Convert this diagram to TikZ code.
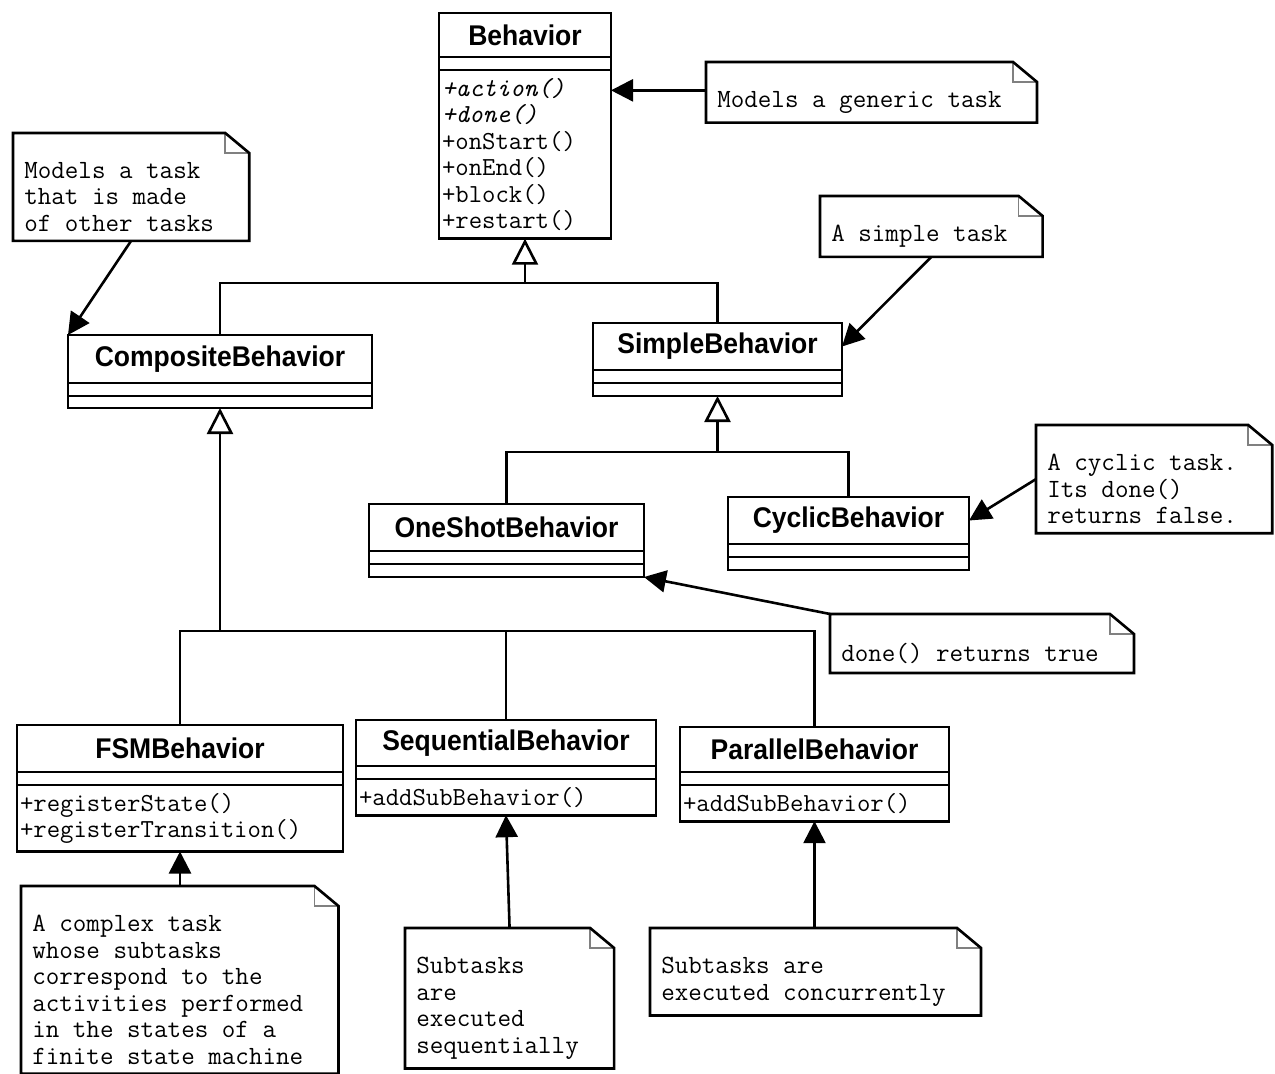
\documentclass[tikz,border=0pt]{standalone}
\usepackage{fontspec}
\newfontfamily\classfont[FakeStretch=0.93]{Liberation Sans}
\usetikzlibrary{positioning,arrows.meta}
\begin{document}
\begin{tikzpicture}[x=1pt, y=-1pt, line width=2.6pt, node distance=0pt]
    \tikzstyle{class_name} = [draw, outer sep=0pt, inner sep=0pt, minimum height=47pt, font=\classfont\bfseries\fontsize{28.5}{30}\selectfont]
    \tikzstyle{class_part} = [draw, outer sep=0pt, inner sep=0pt, minimum height=13pt]
    \tikzstyle{class_ops} = [draw, outer sep=0pt, inner xsep=3pt, inner ysep=8pt, align=left, font=\ttfamily\fontsize{26}{26.5}\selectfont]
    \tikzstyle{note_style} = [anchor=north west, inner xsep=10pt, inner ysep=8pt, align=left, font=\ttfamily\fontsize{26.3}{26.5}\selectfont]
    \tikzstyle{assoc_style} = [-{Triangle[length=22pt,width=22pt]}]
    \tikzstyle{inherit_style} = [-{Triangle[open,length=26pt,width=26pt,fill=white]}]
    \useasboundingbox[fill=white] (0,0) rectangle (1275,1074);

    \node[class_name, minimum width=172pt, minimum height=44pt] (beh) at (525,35) {Behavior};
    \node[class_part, minimum width=172pt, below=of beh] (beh_attr) {};
    \node[class_ops, text width=166pt, below=of beh_attr] (beh_ops) {{\itshape +action()}\\{\itshape +done()}\\+onStart()\\+onEnd()\\+block()\\+restart()};

    \node[class_name, minimum width=304pt, minimum height=48pt] (comp) at (220,359) {CompositeBehavior};
    \node[class_part, minimum width=304pt, below=of comp] (comp_attr) {};
    \node[class_part, minimum width=304pt, minimum height=12pt, below=of comp_attr] (comp_ops) {};

    \node[class_name, minimum width=249pt] (simple) at (717.5,346.5) {SimpleBehavior};
    \node[class_part, minimum width=249pt, below=of simple] (simple_attr) {};
    \node[class_part, minimum width=249pt, below=of simple_attr] (simple_ops) {};

    \node[class_name, minimum width=275pt] (oneshot) at (506.5,527.5) {OneShotBehavior};
    \node[class_part, minimum width=275pt, below=of oneshot] (oneshot_attr) {};
    \node[class_part, minimum width=275pt, below=of oneshot_attr] (oneshot_ops) {};

    \node[class_name, minimum width=241pt] (cyc) at (848.5,520.5) {CyclicBehavior};
    \node[class_part, minimum width=241pt, below=of cyc] (cyc_attr) {};
    \node[class_part, minimum width=241pt, below=of cyc_attr] (cyc_ops) {};

    \node[class_name, minimum width=326pt] (fsm) at (180,748.5) {FSMBehavior};
    \node[class_part, minimum width=326pt, below=of fsm] (fsm_attr) {};
    \node[class_ops, text width=320pt, below=of fsm_attr] (fsm_ops) {+registerState()\\+registerTransition()};

    \node[class_name, minimum width=300pt, minimum height=46pt] (seq) at (506,743) {SequentialBehavior};
    \node[class_part, minimum width=300pt, below=of seq] (seq_attr) {};
    \node[class_ops, text width=294pt, below=of seq_attr] (seq_ops) {+addSubBehavior()};

    \node[class_name, minimum width=269pt, minimum height=45pt] (par) at (814.5,749.5) {ParallelBehavior};
    \node[class_part, minimum width=269pt, below=of par] (par_attr) {};
    \node[class_ops, text width=263pt, below=of par_attr] (par_ops) {+addSubBehavior()};

    \node[note_style] (nbeh) at (706,82) {Models a generic task};
    \node[note_style] (ncomp) at (13,153) {Models a task\\that is made\\of other tasks};
    \node[note_style] (nsimple) at (820,216) {A simple task};
    \node[note_style] (ncyc) at (1036,445) {A cyclic task.\\Its done()\\returns false.};
    \node[note_style] (noneshot) at (830,634) {done() returns true};
    \node[note_style] (nfsm) at (21,906) {A complex task\\whose subtasks\\correspond to the\\activities performed\\in the states of a\\finite state machine};
    \node[note_style] (nseq) at (405,948) {Subtasks\\are\\executed\\sequentially};
    \node[note_style] (npar) at (650,948) {Subtasks are\\executed concurrently};

    \foreach \n in {nbeh,ncomp,nsimple,ncyc,noneshot,nfsm,nseq,npar} {
        \draw[gray, line width=1.5pt] ([yshift=20pt]\n.north east) -- (\n.north east) -- ([xshift=24pt]\n.north east);
        \draw ([yshift=20pt]\n.north west) -- ([yshift=20pt]\n.north east) -- ([xshift=24pt]\n.north east) -- ([xshift=24pt]\n.south east) -- (\n.south west) -- cycle;
    }

    \coordinate (j1) at (beh_ops.south |- 0,283);
    \coordinate (j2) at (simple_ops.south |- 0,452);
    \coordinate (j3) at (comp_ops.south |- 0,631);
    \draw (comp.north) |- (j1) -| (simple.north);
    \draw[inherit_style] (j1) -- (beh_ops.south);
    \draw (oneshot.north) |- (j2) -| (cyc.north);
    \draw[inherit_style] (j2) -- (simple_ops.south);
    \draw (fsm.north) |- (j3) -| (par.north);
    \draw (seq.north) -- (seq.north |- j3);
    \draw[inherit_style] (j3) -- (comp_ops.south);

    \draw[assoc_style] ([yshift=12pt]nbeh.west) -- ([yshift=12pt]nbeh.west -| beh_ops.east);
    \draw[assoc_style] ([xshift=12pt]ncomp.south) -- (comp.north west);
    \draw[assoc_style] ([xshift=12pt]nsimple.south) -- (simple.east);
    \draw[assoc_style] ([yshift=10pt]ncyc.west) -- (cyc.east);
    \draw[assoc_style] ([yshift=20pt]noneshot.north west) -- (oneshot_ops.south east);
    \draw[assoc_style] ([yshift=20pt]nfsm.north -| fsm_ops.south) -- (fsm_ops.south);
    \draw[assoc_style] ([xshift=12pt,yshift=20pt]nseq.north) -- (seq_ops.south);
    \draw[assoc_style] ([yshift=20pt]npar.north -| par_ops.south) -- (par_ops.south);
\end{tikzpicture}
\end{document}
